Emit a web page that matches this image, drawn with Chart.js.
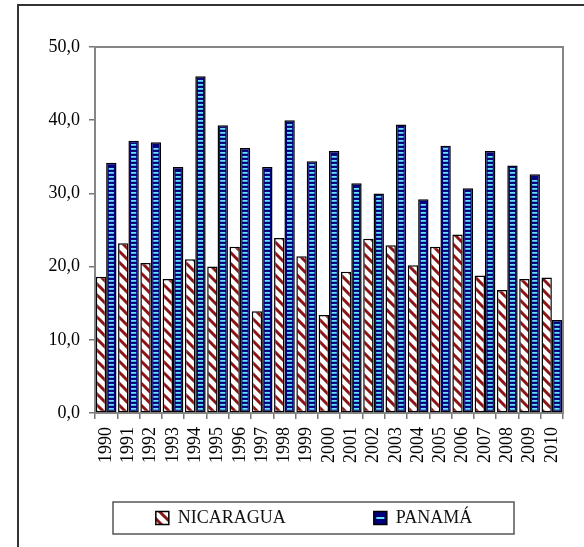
<!DOCTYPE html>
<html>
<head>
<meta charset="utf-8">
<script src="https://cdn.jsdelivr.net/npm/chart.js@4.4.0/dist/chart.umd.min.js"></script>
<style>
  body { margin: 0; background: #fff; }
  canvas { display: block; }
</style>
</head>
<body>
<canvas id="chart" width="584" height="547"></canvas>
<script>
// data

const years = ['1990', '1991', '1992', '1993', '1994', '1995', '1996', '1997', '1998', '1999', '2000',
  '2001', '2002', '2003', '2004', '2005', '2006', '2007', '2008', '2009', '2010']
const nicaragua = [18.6, 23.2, 20.5, 18.3, 21.0, 20.0, 22.7, 13.9, 23.9, 21.4, 13.4,
  19.3, 23.8, 22.9, 20.2, 22.7, 24.4, 18.8, 16.8, 18.3, 18.5]
const panama = [34.2, 37.2, 37.0, 33.6, 46.0, 39.3, 36.2, 33.6, 40.0, 34.4, 35.8,
  31.4, 30.0, 39.4, 29.2, 36.5, 30.7, 35.8, 33.8, 32.6, 12.7]
const seriesNames = ['NICARAGUA', 'PANAMÁ']

const font = 'Liberation Serif'
const navy = '#00007e'
const cyan = '#66e4f4'
const darkRed = '#8c1414'
const legendBox = { left: 113, right: 514, top: 502, bottom: 534 }

// white with dark red "\" stripes
function stripePattern() {
  const size = 11
  const c = document.createElement('canvas')
  c.width = size
  c.height = size
  const g = c.getContext('2d')
  g.fillStyle = '#fff'
  g.fillRect(0, 0, size, size)
  g.strokeStyle = darkRed
  g.lineWidth = 3
  g.beginPath()
  for (let k = -1; k <= 1; k++) {
    g.moveTo(k * size - 2, -2)
    g.lineTo(k * size + size + 2, size + 2)
  }
  g.stroke()
  return g.createPattern(c, 'repeat')
}

const ctx = document.getElementById('chart').getContext('2d')

// plugins

const framePlugin = {
  id: 'frame',
  beforeDraw(chart) {
    const c = chart.ctx
    c.save()
    c.fillStyle = '#fff'
    c.fillRect(0, 0, chart.width, chart.height)
    c.strokeStyle = '#333'
    c.lineWidth = 2
    c.beginPath()
    c.moveTo(18, chart.height)
    c.lineTo(18, 5)
    c.lineTo(chart.width, 5)
    c.stroke()
    c.restore()
  },
  beforeDatasetsDraw(chart) {
    const a = chart.chartArea
    const c = chart.ctx
    c.save()
    c.strokeStyle = '#858585'
    c.lineWidth = 2
    c.strokeRect(a.left, a.top, a.right - a.left, a.bottom - a.top)
    c.restore()
  }
}

// cyan dashes inside the PANAMA bars
const dashPlugin = {
  id: 'dashes',
  afterDatasetsDraw(chart) {
    const meta = chart.getDatasetMeta(1)
    const c = chart.ctx
    c.save()
    c.fillStyle = cyan
    meta.data.forEach(el => {
      const { x, y, base, width } = el.getProps(['x', 'y', 'base', 'width'], true)
      const inset = 2.6
      const left = x - width / 2 + inset
      const w = width - inset * 2
      for (let yy = base - 2.5; yy - 1.8 > y + 2; yy -= 4) {
        c.fillRect(left, yy - 1.8, w, 1.8)
      }
    })
    c.restore()
  }
}

const legendPlugin = {
  id: 'legendFrame',
  afterLayout(chart) {
    // legend items are centred between left and right, the wide right edge keeps both on one line
    const lg = chart.legend
    const pad = lg.options.labels.padding
    const fs = lg.options.labels.font.size
    const mid = (legendBox.top + legendBox.bottom) / 2
    lg.left = 58
    lg.right = 570
    lg.top = mid - pad - fs / 2
    lg.bottom = legendBox.bottom
  },
  afterDraw(chart) {
    const c = chart.ctx
    c.save()
    c.strokeStyle = '#555'
    c.lineWidth = 1.5
    c.strokeRect(legendBox.left, legendBox.top, legendBox.right - legendBox.left, legendBox.bottom - legendBox.top)
    const hb = chart.legend.legendHitBoxes[1]
    if (hb) {
      const bw = chart.legend.options.labels.boxWidth
      const top = hb.top + (hb.height - bw) / 2
      c.fillStyle = cyan
      c.fillRect(hb.left + 2.5, top + bw / 2 - 1, bw - 5, 2)
    }
    c.restore()
  }
}

const chart = new Chart(ctx, {
  type: 'bar',
  data: {
    labels: years,
    datasets: [
      {
        label: seriesNames[0],
        data: nicaragua,
        backgroundColor: stripePattern(),
        borderColor: '#000',
        borderWidth: 1.5,
        borderSkipped: false,
        categoryPercentage: 0.93,
        barPercentage: 1.0
      },
      {
        label: seriesNames[1],
        data: panama,
        backgroundColor: navy,
        borderColor: '#000',
        borderWidth: 1.5,
        borderSkipped: false,
        categoryPercentage: 0.93,
        barPercentage: 1.0
      }
    ]
  },
  options: {
    responsive: false,
    animation: false,
    devicePixelRatio: 1,
    layout: { padding: { top: 47, left: 45, right: 21, bottom: 0 } },
    plugins: {
      tooltip: { enabled: false },
      legend: {
        position: 'bottom',
        maxHeight: 74,
        labels: {
          boxWidth: 13,
          boxHeight: 13,
          padding: 88,
          color: '#111',
          font: { family: font, size: 18 }
        }
      }
    },
    scales: {
      x: {
        afterFit: s => { s.height = 60 },
        border: { display: false },
        grid: { drawOnChartArea: false, tickLength: 6, color: '#777', lineWidth: 1.5 },
        ticks: {
          autoSkip: false,
          minRotation: 90,
          maxRotation: 90,
          padding: 8,
          color: '#000',
          font: { family: font, size: 18 }
        }
      },
      y: {
        min: 0,
        max: 50,
        afterFit: s => { s.width = 50 },
        border: { display: false },
        grid: { drawOnChartArea: false, tickLength: 6, color: '#777', lineWidth: 1.5 },
        ticks: {
          stepSize: 10,
          padding: 9,
          color: '#000',
          font: { family: font, size: 18 },
          callback: v => v.toFixed(1).replace('.', ',')
        }
      }
    }
  },
  plugins: [framePlugin, dashPlugin, legendPlugin]
})
</script>
</body>
</html>
